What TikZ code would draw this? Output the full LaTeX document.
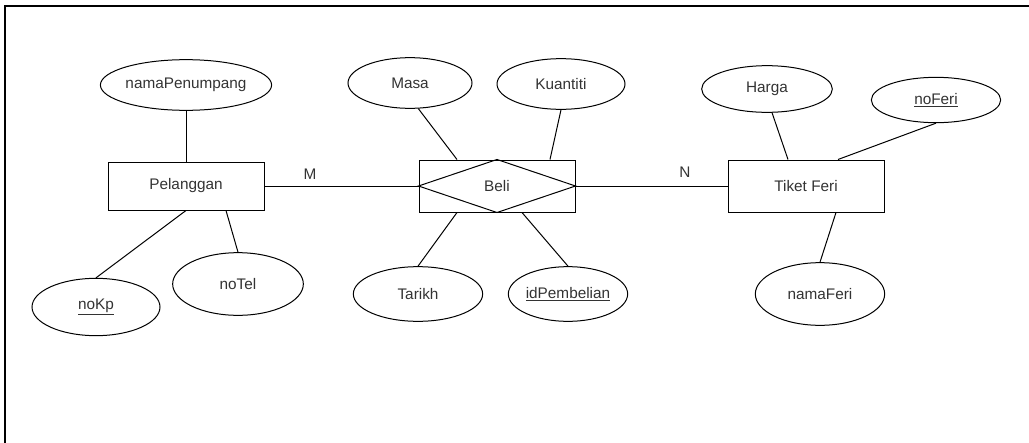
\documentclass[tikz,border=0pt]{standalone}
\usepackage{fontspec}
\setmainfont{Liberation Sans}
\usetikzlibrary{shapes.geometric,calc}
\definecolor{ink}{HTML}{333333}
\begin{document}
\begin{tikzpicture}[x=0.75pt,y=-0.75pt,
  font=\fontsize{11.5}{13}\selectfont,
  every node/.style={text=ink},
  entity/.style={draw=black,line width=0.75pt,rectangle,minimum width=117pt,minimum height=36pt,inner sep=0pt},
  attr/.style={draw=black,line width=0.75pt,ellipse,inner sep=0pt},
  link/.style={draw=black,line width=0.75pt},
  frameline/.style={draw=black,line width=1.1pt}]
\useasboundingbox (0,0) rectangle (1029,443);
% outer frame (top and left edges)
\coordinate (fa) at (1029,6);
\coordinate (fb) at (5,6);
\coordinate (fc) at (5,443);
\draw[frameline] (fa) -- (fb) -- (fc);

% entities and relationship
\node[entity] (pel) at (186,186) {Pelanggan};
\node[entity,minimum height=39pt] (beli) at (497,186) {Beli};
\draw[link] (beli.west) -- (beli.north) -- (beli.east) -- (beli.south) -- cycle;
\node[entity,minimum height=39pt] (tik) at (806,186) {Tiket Feri};

% attributes
\node[attr,minimum width=96pt,minimum height=38pt] (nama) at (186,85) {namaPenumpang};
\node[attr,minimum width=96pt,minimum height=43pt] (nokp) at (96,307) {\underline{noKp}};
\node[attr,minimum width=98pt,minimum height=47pt] (tel) at (238,284) {noTel};
\node[attr,minimum width=93pt,minimum height=38pt] (masa) at (410,83) {Masa};
\node[attr,minimum width=96pt,minimum height=38pt] (kuan) at (561,84) {Kuantiti};
\node[attr,minimum width=97pt,minimum height=41pt] (tar) at (418,294) {Tarikh};
\node[attr,minimum width=88pt,minimum height=41pt] (idp) at (568,294) {\underline{idPembelian}};
\node[attr,minimum width=98pt,minimum height=35pt] (harga) at (767,89) {Harga};
\node[attr,minimum width=97pt,minimum height=34pt] (nofe) at (936,100) {\underline{noFeri}};
\node[attr,minimum width=97pt,minimum height=47pt] (namf) at (820,294) {namaFeri};

% cardinality labels
\node (m) at (310,174) {M};
\node (n) at (685,172) {N};

% connectors
\draw[link] (nama.south) -- (pel.north);
\draw[link] (pel.south) -- (nokp.north);
\draw[link] ($(pel.south)+(40,0)$) -- (tel.north);
\draw[link] (pel.east) -- (beli.west);
\draw[link] (beli.east) -- (tik.west);
\draw[link] (masa.-72) -- ($(beli.north)+(-40,0)$);
\draw[link] (kuan.south) -- ($(beli.north)+(53,0)$);
\draw[link] ($(beli.south)+(-40,0)$) -- (tar.north);
\draw[link] ($(beli.south)+(25,0)$) -- (idp.north);
\draw[link] (harga.-78) -- ($(tik.north)+(-18,0)$);
\draw[link] (nofe.south) -- ($(tik.north)+(32,0)$);
\draw[link] ($(tik.south)+(30,0)$) -- (namf.north);
\end{tikzpicture}
\end{document}
